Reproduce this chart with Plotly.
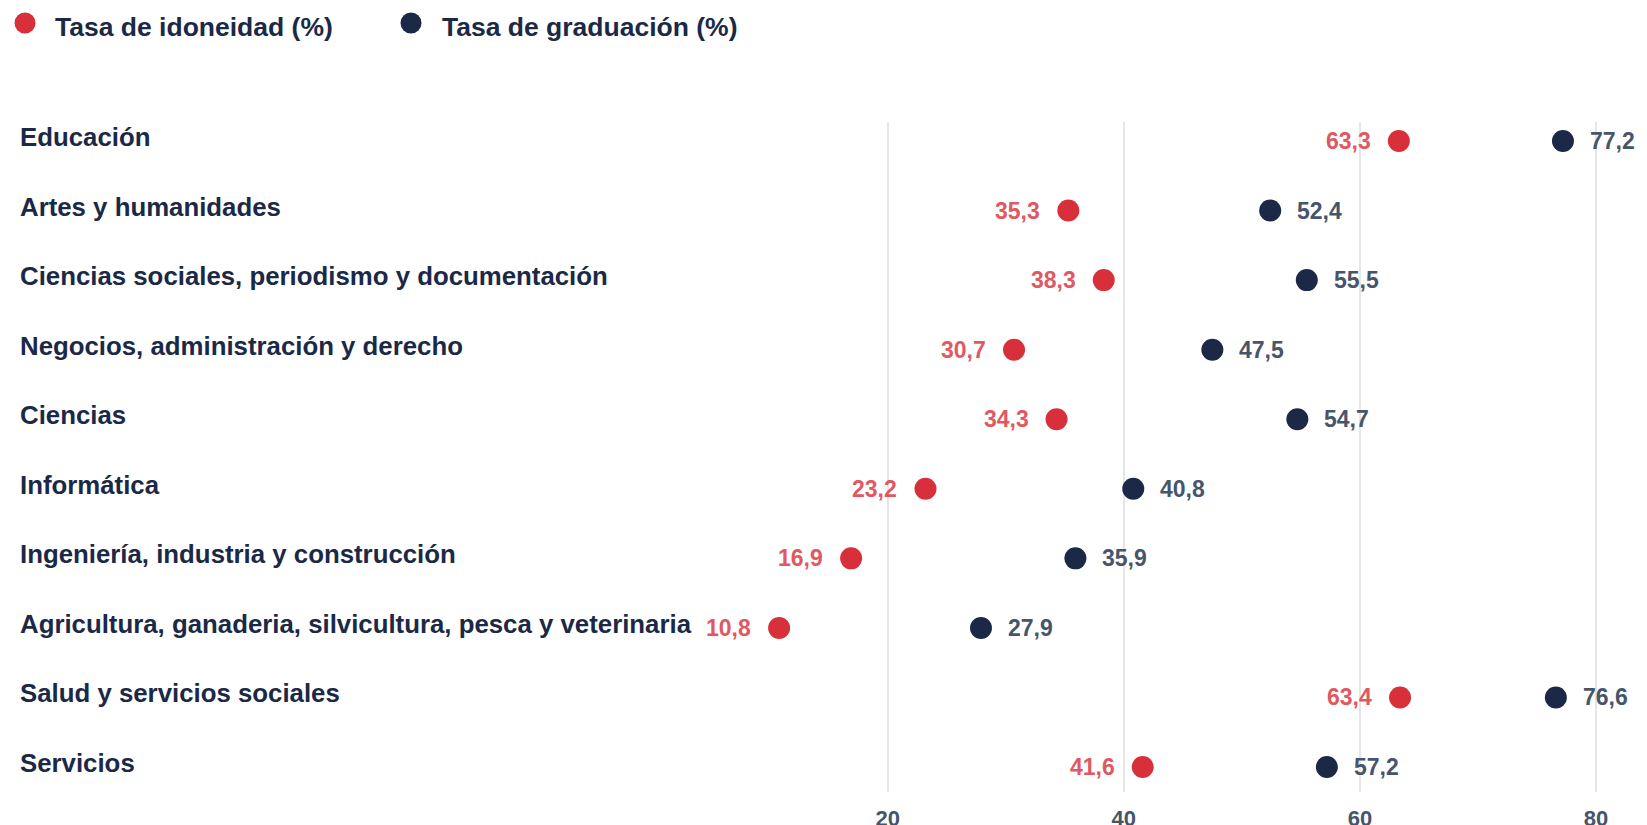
import plotly.graph_objects as go

categories = [
    "Educación",
    "Artes y humanidades",
    "Ciencias sociales, periodismo y documentación",
    "Negocios, administración y derecho",
    "Ciencias",
    "Informática",
    "Ingeniería, industria y construcción",
    "Agricultura, ganaderia, silvicultura, pesca y veterinaria",
    "Salud y servicios sociales",
    "Servicios",
]
idoneidad = [63.3, 35.3, 38.3, 30.7, 34.3, 23.2, 16.9, 10.8, 63.4, 41.6]
graduacion = [77.2, 52.4, 55.5, 47.5, 54.7, 40.8, 35.9, 27.9, 76.6, 57.2]
series_names = ["Tasa de idoneidad (%)", "Tasa de graduación (%)"]
tick_values = [20, 40, 60, 80]

RED = "#d7303a"
RED_TXT = "#e05861"
NAVY = "#1b2947"
NAVY_TXT = "#47556b"
FONT = "Liberation Sans, Arial, sans-serif"

W, H = 1647, 825
MT, MB = 122, 33
PLOT_H = H - MT - MB


def fmt(v):
    return f"{v:.1f}".replace(".", ",")


def py(pix):
    # pixel row from top -> paper y
    return (H - MB - pix) / PLOT_H


fig = go.Figure()
fig.add_trace(go.Scatter(
    x=idoneidad, y=categories, mode="markers", name=series_names[0],
    marker=dict(color=RED, size=22), hoverinfo="skip", showlegend=False,
))
fig.add_trace(go.Scatter(
    x=graduacion, y=categories, mode="markers", name=series_names[1],
    marker=dict(color=NAVY, size=22), hoverinfo="skip", showlegend=False,
))

annotations = []
for cat, a, b in zip(categories, idoneidad, graduacion):
    annotations.append(dict(
        x=a, y=cat, xref="x", yref="y", text=fmt(a), showarrow=False,
        xanchor="right", yanchor="middle", xshift=-26,
        font=dict(family=FONT, size=23, color=RED_TXT, weight=700),
    ))
    annotations.append(dict(
        x=b, y=cat, xref="x", yref="y", text=fmt(b), showarrow=False,
        xanchor="left", yanchor="middle", xshift=25,
        font=dict(family=FONT, size=23, color=NAVY_TXT, weight=700),
    ))
    annotations.append(dict(
        x=0, y=cat, xref="paper", yref="y", text=cat, showarrow=False,
        xanchor="left", yanchor="middle", xshift=18, yshift=4,
        font=dict(family=FONT, size=25.8, color=NAVY, weight=700),
    ))

# custom legend (larger dots than Plotly's legend allows)
legend_colors = [RED, NAVY]
legend_dot_x = [25, 411]
legend_text_x = [53, 440]
shapes = []
for name, col, dx, tx in zip(series_names, legend_colors, legend_dot_x, legend_text_x):
    shapes.append(dict(
        type="circle", xref="paper", yref="paper",
        xsizemode="pixel", ysizemode="pixel",
        xanchor=dx / W, yanchor=py(23),
        x0=-10.5, x1=10.5, y0=-10.5, y1=10.5,
        fillcolor=col, line=dict(width=0),
    ))
    annotations.append(dict(
        x=tx / W, y=py(27), xref="paper", yref="paper", text=name,
        showarrow=False, xanchor="left", yanchor="middle",
        font=dict(family=FONT, size=26.5, color=NAVY, weight=700),
    ))

fig.update_layout(
    width=W, height=H,
    margin=dict(l=0, r=0, t=MT, b=MB, pad=0, autoexpand=False),
    plot_bgcolor="white", paper_bgcolor="white",
    font=dict(family=FONT),
    showlegend=False,
    xaxis=dict(
        range=[-55.2, 84.32], tickvals=tick_values,
        showgrid=True, gridcolor="#e6e6e6", gridwidth=2,
        zeroline=False, showline=False, ticks="",
        tickfont=dict(family=FONT, size=22, color=NAVY_TXT, weight=700),
        ticklabelstandoff=11, fixedrange=True, automargin=False,
    ),
    yaxis=dict(
        type="category", categoryorder="array", categoryarray=categories,
        range=[9.359, -0.273], showticklabels=False, showgrid=False,
        zeroline=False, showline=False, ticks="", fixedrange=True,
        automargin=False,
    ),
    shapes=shapes,
    annotations=annotations,
)

fig.write_html(
    "out.html",
    config={"displayModeBar": False},
    post_script="document.body.style.margin='0px';document.body.style.overflow='hidden';",
)
